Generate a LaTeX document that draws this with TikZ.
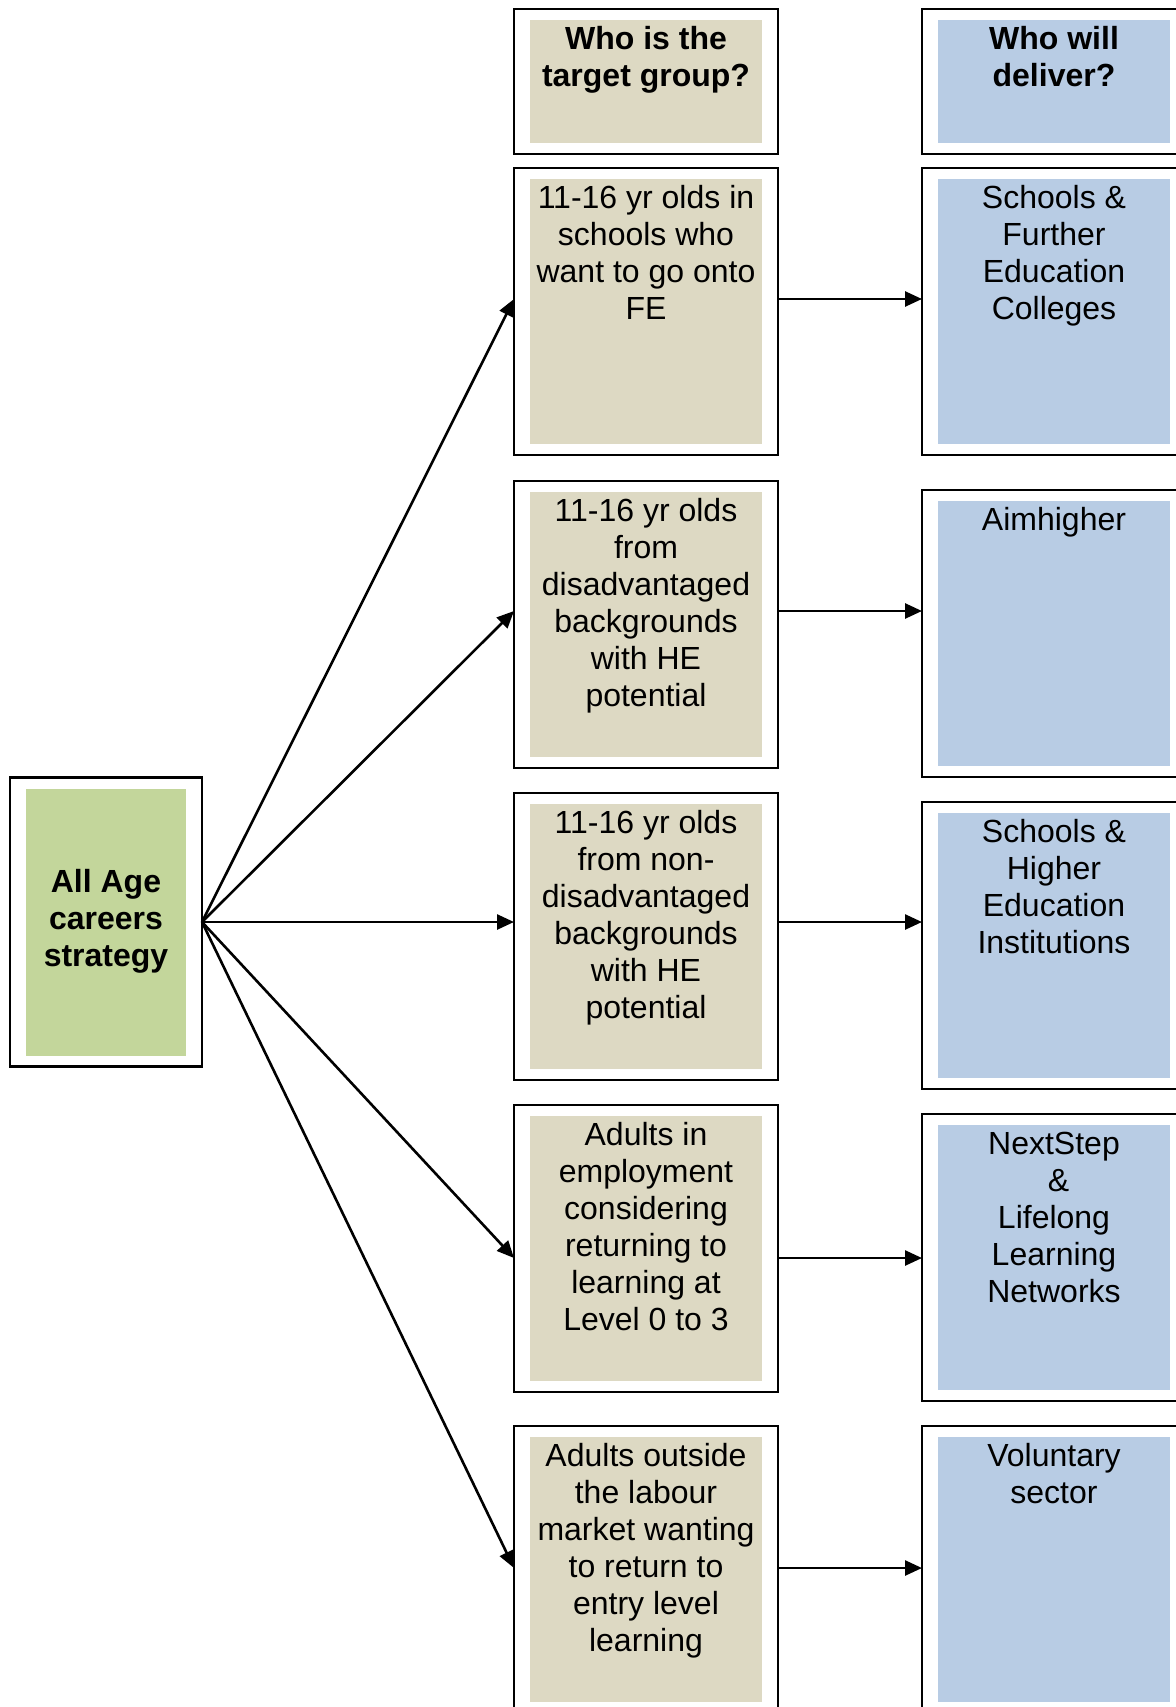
\documentclass[tikz,border=0pt]{standalone}
\usepackage{fontspec}
\setmainfont{Liberation Sans}
\usetikzlibrary{arrows.meta}
\definecolor{tanfill}{HTML}{DDD9C3}
\definecolor{bluefill}{HTML}{B8CCE4}
\definecolor{greenfill}{HTML}{C3D69B}
\newcommand\topstrut{\rule{0pt}{14pt}}
\begin{document}
\begin{tikzpicture}[x=0.5pt,y=-0.5pt,
  frame/.style={draw=black, line width=1.2pt, fill=white, inner sep=0pt, outer sep=0pt,
                minimum width=132pt, minimum height=143.5pt},
  headframe/.style={frame, minimum height=72.5pt},
  tanbox/.style={fill=tanfill, inner sep=0pt, outer sep=0pt, minimum width=116pt, minimum height=132.5pt},
  bluebox/.style={fill=bluefill, inner sep=0pt, outer sep=0pt, minimum width=116pt, minimum height=132.5pt},
  greenbox/.style={fill=greenfill, inner sep=0pt, outer sep=0pt, minimum width=80pt, minimum height=133.5pt},
  txt/.style={inner sep=0pt, align=center, anchor=north, font=\fontsize{16pt}{18.5pt}\selectfont},
  btxt/.style={txt, font=\fontsize{16pt}{18.5pt}\selectfont\bfseries},
  conn/.style={line width=1.3pt, -{Triangle[length=8.5pt,width=7.5pt]}}
]
\useasboundingbox (0,0) rectangle (1176,1707);
\clip (0,0) rectangle (1176,1707);

% source box
\node[frame, minimum width=96pt, minimum height=144.5pt] (src) at (106,922) {};
\node[greenbox] (srcf) at (106,922.5) {};
\node[btxt] (srct) at (106,864) {\topstrut All Age\\careers\\strategy};

% headers
\node[headframe] (th) at (646,81.5) {};
\node[tanbox, minimum height=61.5pt] (thf) at (646,81.5) {};
\node[btxt] (tht) at ([yshift=-0.5pt]thf.north) {\topstrut Who is the\\target group?};

\node[headframe] (dh) at (1054,81.5) {};
\node[bluebox, minimum height=61.5pt] (dhf) at (1054,81.5) {};
\node[btxt] (dht) at ([yshift=-0.5pt]dhf.north) {\topstrut Who will\\deliver?};

% target group boxes
\node[frame] (t1) at (646,311.5) {};
\node[tanbox] (t1f) at (646,311.5) {};
\node[txt] (t1t) at ([yshift=-0.5pt]t1f.north) {\topstrut 11-16 yr olds in\\schools who\\want to go onto\\FE};

\node[frame] (t2) at (646,624.5) {};
\node[tanbox] (t2f) at (646,624.5) {};
\node[txt] (t2t) at ([yshift=-0.5pt]t2f.north) {\topstrut 11-16 yr olds\\from\\disadvantaged\\backgrounds\\with HE\\potential};

\node[frame] (t3) at (646,936.5) {};
\node[tanbox] (t3f) at (646,936.5) {};
\node[txt] (t3t) at ([yshift=-0.5pt]t3f.north) {\topstrut 11-16 yr olds\\from non-\\disadvantaged\\backgrounds\\with HE\\potential};

\node[frame] (t4) at (646,1248.5) {};
\node[tanbox] (t4f) at (646,1248.5) {};
\node[txt] (t4t) at ([yshift=-0.5pt]t4f.north) {\topstrut Adults in\\employment\\considering\\returning to\\learning at\\Level 0 to 3};

\node[frame] (t5) at (646,1569.5) {};
\node[tanbox] (t5f) at (646,1569.5) {};
\node[txt] (t5t) at ([yshift=-0.5pt]t5f.north) {\topstrut Adults outside\\the labour\\market wanting\\to return to\\entry level\\learning};

% delivery boxes
\node[frame] (d1) at (1054,311.5) {};
\node[bluebox] (d1f) at (1054,311.5) {};
\node[txt] (d1t) at ([yshift=-0.5pt]d1f.north) {\topstrut Schools \&\\Further\\Education\\Colleges};

\node[frame] (d2) at (1054,633.5) {};
\node[bluebox] (d2f) at (1054,633.5) {};
\node[txt] (d2t) at ([yshift=-0.5pt]d2f.north) {\topstrut Aimhigher};

\node[frame] (d3) at (1054,945.5) {};
\node[bluebox] (d3f) at (1054,945.5) {};
\node[txt] (d3t) at ([yshift=-0.5pt]d3f.north) {\topstrut Schools \&\\Higher\\Education\\Institutions};

\node[frame] (d4) at (1054,1257.5) {};
\node[bluebox] (d4f) at (1054,1257.5) {};
\node[txt] (d4t) at ([yshift=-0.5pt]d4f.north) {\topstrut NextStep\\\hspace*{4.45pt}\&\\Lifelong\\Learning\\Networks};

\node[frame] (d5) at (1054,1569.5) {};
\node[bluebox] (d5f) at (1054,1569.5) {};
\node[txt] (d5t) at ([yshift=-0.5pt]d5f.north) {\topstrut Voluntary\\sector};

% arrow heights
\coordinate (y1) at (0,299);
\coordinate (y2) at (0,611);
\coordinate (y3) at (0,922);
\coordinate (y4) at (0,1258);
\coordinate (y5) at (0,1568);

% connectors
\draw[conn] (src.east) -- (t1.west |- y1);
\draw[conn] (src.east) -- (t2.west |- y2);
\draw[conn] (src.east) -- (t3.west |- y3);
\draw[conn] (src.east) -- (t4.west |- y4);
\draw[conn] (src.east) -- (t5.west |- y5);

\draw[conn] (t1.east |- y1) -- (d1.west |- y1);
\draw[conn] (t2.east |- y2) -- (d2.west |- y2);
\draw[conn] (t3.east |- y3) -- (d3.west |- y3);
\draw[conn] (t4.east |- y4) -- (d4.west |- y4);
\draw[conn] (t5.east |- y5) -- (d5.west |- y5);
\end{tikzpicture}
\end{document}
